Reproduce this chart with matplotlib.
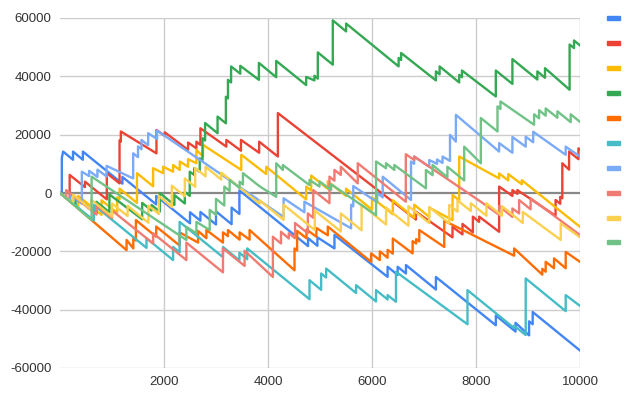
import matplotlib
matplotlib.use("Agg")
import matplotlib.pyplot as plt
from matplotlib.patches import Rectangle

colors = ["#4285F4", "#EA4335", "#FBBC04", "#34A853", "#FF6D01",
          "#46BDC6", "#7BAAF7", "#F07B72", "#FCD04F", "#71C287"]

x_ticks = [2000, 4000, 6000, 8000, 10000]
y_ticks = [-60000, -40000, -20000, 0, 20000, 40000, 60000]

# vertices (step, value), jumps are repeated x values
blue = [(0, 0), (35, -500), (35, 12000), (60, 14200), (250, 11400), (250, 14200), (440, 11400), (440, 14200),
        (1200, 3200), (1200, 5500), (1850, -3900), (1850, -1000), (2500, -10400), (2500, -6600),
        (2700, -9500), (2700, -6500), (3000, -10800), (3000, -6300), (3300, -10700), (3300, -5000),
        (3450, -7200), (3450, 900), (4770, -18200), (4770, -15500), (4950, -18100), (4950, -15200),
        (5278, -19000), (5278, -14400), (6300, -28760), (6300, -25300), (6493, -28100), (6493, -25300),
        (6653, -27600), (6653, -24700), (7229, -33100), (7229, -28800), (8381, -45350), (8381, -42000),
        (8760, -47500), (8760, -44500), (9021, -48800), (9021, -44000), (9090, -45000), (9090, -40800),
        (10000, -54000)]

red = [(0, 0), (186, -2700), (186, 6200), (480, 2000), (480, 3900), (900, -2200), (900, 6800),
       (1145, 3300), (1145, 18000), (1170, 17600), (1170, 21100), (1855, 13600), (1855, 21600),
       (2015, 19600), (2015, 20800), (2463, 14800), (2463, 17300), (2623, 15300), (2623, 17600),
       (2700, 16500), (2700, 22200), (3199, 15900), (3199, 18200), (3480, 14500), (3480, 18200),
       (3830, 13800), (3830, 17600), (4190, 12500), (4190, 27400), (6845, -9100), (6845, -6400),
       (7548, -15200), (7548, -11600), (7740, -14200), (7740, -10600), (7940, -13500), (7940, -8100),
       (8060, -9900), (8060, -8100), (8445, -13300), (8445, 2200), (8700, -1000), (8700, 1000),
       (8795, -300), (8795, 1000), (9530, -7800), (9530, -2400), (9620, -3700), (9620, -1300),
       (9660, -1800), (9660, 10200), (9790, 8000), (9790, 14200), (9970, 11600), (9970, 15300),
       (10000, 15000)]

yellow = [(0, 0), (350, -5000), (350, -1000), (800, -7500), (800, -2500), (1100, -6800),
          (1100, -1500), (1145, -2200), (1145, 1500), (1480, -3400), (1480, 6800), (1790, 2300),
          (1790, 8500), (1983, 6800), (1983, 9000), (2175, 7300), (2175, 9600), (2303, 7900),
          (2303, 10800), (2463, 9000), (2463, 11600), (2623, 10200), (2623, 14800), (2750, 12500),
          (2750, 16500), (3486, 7900), (3486, 13100), (3966, 6500), (3966, 9000), (4734, -2200),
          (4734, 2200), (4830, 800), (4830, 6000), (5150, 1400), (5150, 4000), (5500, -1000),
          (5500, 1500), (6000, -5700), (6000, -1500), (6400, -7300), (6400, -2500), (6813, -8500),
          (6813, -4000), (7100, -8200), (7100, -5000), (7549, -9300), (7549, -700), (7677, -2500),
          (7677, 12500), (8445, 5000), (8445, 6700), (8620, 4300), (8620, 6500), (8880, 3000),
          (8880, 4400), (10000, -11600)]

green = [(0, 0), (300, -4000), (300, -1500), (700, -7000), (700, -3000), (950, -6600), (950, -500),
         (1580, -9000), (1580, -3400), (1760, -6000), (1760, -4100), (1919, -6400), (1919, 0),
         (2200, -4100), (2200, -700), (2400, -3600), (2400, 400), (2495, -1000), (2495, 7300),
         (2580, 6200), (2580, 8500), (2687, 7300), (2687, 11900), (2740, 11200), (2740, 18800),
         (2790, 18000), (2790, 24000), (3030, 20500), (3030, 26200), (3190, 23900), (3190, 33000),
         (3230, 32400), (3230, 38800), (3290, 37900), (3290, 43400), (3467, 40900), (3467, 43600),
         (3825, 38800), (3825, 44600), (4158, 39700), (4158, 45300), (4734, 37000), (4734, 39800),
         (4893, 38600), (4893, 40200), (4958, 39200), (4958, 48200), (5246, 44000), (5246, 59200),
         (5502, 55400), (5502, 58100), (6512, 43400), (6512, 46300), (6560, 45600), (6560, 48000),
         (7229, 38600), (7229, 41700), (7300, 40700), (7300, 43400), (7677, 37900), (7677, 40500),
         (7730, 39700), (7730, 42000), (8381, 33100), (8381, 42000), (8700, 37400), (8700, 45900),
         (9180, 38900), (9180, 41700), (9327, 39500), (9327, 42800), (9800, 35400), (9800, 50900),
         (9885, 49700), (9885, 52300), (10000, 50600)]

orange = [(0, 0), (1280, -19600), (1280, -16100), (1410, -19000), (1410, -15500), (1460, -16300),
          (1460, -9300), (1850, -15000), (1850, -11500), (2300, -18000), (2300, -13500),
          (2655, -17000), (2655, -13000), (2815, -15500), (2815, -12700), (3134, -17000),
          (3134, -13500), (3230, -14800), (3230, -12700), (3454, -16000), (3454, -13500),
          (3646, -16000), (3646, -12700), (4510, -26500), (4510, -19000), (4560, -19700),
          (4560, -13000), (4740, -15500), (4740, -12500), (4930, -15000), (4930, -12000),
          (5150, -14500), (5150, -11500), (5982, -23600), (5982, -20700), (6150, -23000),
          (6150, -20000), (6300, -22200), (6300, -19500), (6400, -20800), (6400, -15600),
          (6781, -20700), (6781, -16500), (6850, -17300), (6850, -15800), (6909, -16600),
          (6909, -12700), (7389, -18500), (7389, -9500), (8733, -21500), (8733, -19000),
          (9275, -28000), (9275, -26000), (9340, -27000), (9340, -23600), (9500, -25800),
          (9500, -22400), (9725, -25800), (9725, -20200), (10000, -23600)]

teal = [(0, 0), (650, -9400), (650, -4100), (1663, -18800), (1663, -15500), (2175, -23000),
        (2175, -18500), (2300, -20300), (2300, -9900), (3134, -22000), (3134, -18500),
        (3450, -23100), (3450, -20500), (3600, -22700), (3600, -19000), (4798, -36400),
        (4798, -29900), (5022, -33200), (5022, -27600), (5118, -29000), (5118, -25900),
        (5694, -34300), (5694, -31600), (6078, -37200), (6078, -33300), (6300, -36500),
        (6300, -35000), (6461, -37300), (6461, -27000), (7836, -45000), (7836, -33300),
        (8733, -46300), (8733, -45500), (8956, -48700), (8956, -29300), (9725, -40500),
        (9725, -35000), (10000, -38700)]

light_blue = [(0, 0), (200, -2900), (200, -500), (420, -3700), (420, 7300), (560, 5800), (560, 7600),
              (720, 5500), (720, 8000), (896, 5700), (896, 9300), (1407, 5000), (1407, 13600),
              (1500, 12300), (1500, 16000), (1567, 15000), (1567, 18200), (1695, 16400),
              (1695, 20500), (1867, 18500), (1867, 21400), (4000, -4600), (4300, -8200),
              (4300, -1800), (4700, -6600), (4700, -3000), (5598, -12100), (5598, -4000),
              (5640, -4600), (5640, 2400), (6100, -3200), (6100, 0), (6206, -1500), (6206, 5600),
              (6750, -2400), (6750, 10800), (6810, 10000), (6810, 12500), (7101, 9000),
              (7101, 11300), (7250, 10000), (7250, 11500), (7357, 10300), (7357, 12500),
              (7500, 11000), (7500, 19900), (7613, 17600), (7613, 26800), (8445, 14200),
              (8445, 17100), (8700, 13800), (8700, 19200), (8956, 15900), (8956, 19300),
              (9100, 17400), (9100, 21000), (9725, 13100), (9725, 15900), (10000, 12500)]

light_red = [(0, 0), (120, -1700), (120, 1000), (700, -7400), (700, -4300), (1000, -8600),
             (1000, -6000), (1790, -17300), (1790, -13800), (2430, -23000), (2430, -17000),
             (3134, -27200), (3134, -19000), (3550, -25000), (3550, -19800), (4094, -28800),
             (4094, -15000), (4250, -17300), (4250, -13300), (4400, -15600), (4400, -13800),
             (4520, -15500), (4520, -10300), (4766, -13800), (4766, -7000), (4870, -8500),
             (4870, 1000), (5182, -3500), (5182, 5600), (5278, 4200), (5278, 7900), (5400, 6200),
             (5400, 9000), (5726, 3300), (5726, 10200), (6650, -3000), (6650, 13300), (6813, 11300),
             (6813, 12500), (8093, -3000), (8445, -7500), (8445, -4500), (8700, -8200),
             (8700, -5300), (8829, -7000), (8829, -2400), (9050, -5600), (9050, -1800),
             (10000, -14400)]

light_yellow = [(0, 0), (250, -3600), (250, -600), (600, -5700), (600, -2300), (1000, -8100),
                (1000, -3600), (1300, -7900), (1300, -4400), (1700, -10200), (1700, -4300),
                (1900, -7200), (1900, -1000), (2150, -4800), (2150, 2500), (2400, -1100),
                (2400, 5000), (2600, 2100), (2600, 8600), (2800, 5700), (2800, 9000), (3100, 4600),
                (3100, 7000), (3838, -3700), (3838, -2500), (4300, -9200), (4300, -4000),
                (4900, -12700), (4900, -6000), (5400, -13200), (5400, -7000), (5800, -12800),
                (5800, -4000), (6270, -10800), (6270, -5000), (6700, -11200), (6700, -4500),
                (7100, -10300), (7100, -4800), (7485, -10400), (7485, -4100), (7645, -6400),
                (7645, -2500), (7900, -6200), (7900, -3500), (8200, -7800), (8200, -3500),
                (8500, -7800), (8500, -4500), (8900, -10300), (8900, -6500), (9630, -16100),
                (9630, -10400), (10000, -15200)]

light_green = [(0, 0), (608, -9300), (608, 5600), (2430, -16100), (2430, -11600), (2623, -13800),
               (2623, -9900), (2879, -12700), (2879, -5800), (3000, -7500), (3000, -2000),
               (3160, -4300), (3160, 2200), (3262, 700), (3262, 4500), (3454, 1700), (3454, 3900),
               (3518, 2900), (3518, 6800), (3838, 2300), (4158, -1300), (4158, 10200),
               (4286, 7900), (4286, 9600), (4798, 2700), (4798, 4500), (4990, 2200), (4990, 4000),
               (5214, 1000), (5214, 3000), (6078, -7600), (6078, 10800), (6270, 8500),
               (6270, 10200), (6430, 7900), (6430, 9600), (7037, 1600), (7037, 7900),
               (7165, 6100), (7165, 9600), (7450, 5400), (7450, 9000), (7773, 4300),
               (7773, 15900), (8093, 10200), (8093, 25700), (8413, 21100), (8413, 29700),
               (8470, 28800), (8470, 31400), (9117, 23400), (9117, 27000), (9213, 25600),
               (9213, 28400), (9340, 26500), (9340, 29000), (9565, 25800), (9565, 28000),
               (9821, 24300), (9821, 27000), (10000, 24400)]

series = [blue, red, yellow, green, orange, teal, light_blue, light_red, light_yellow, light_green]

W, H = 633, 394
fig = plt.figure(figsize=(W / 100, H / 100), dpi=100)
ax = fig.add_axes([60 / W, 1 - 368 / H, 520 / W, 350 / H])

for v in x_ticks:
    ax.axvline(v, color="#cccccc", lw=1, zorder=0)
for v in y_ticks:
    if v != 0:
        ax.axhline(v, color="#cccccc", lw=1, zorder=0)
ax.axhline(0, color="#888888", lw=1.6, zorder=1)

for pts, c in zip(series, colors):
    xs = [p[0] for p in pts]
    ys = [p[1] for p in pts]
    ax.plot(xs, ys, color=c, lw=1.7, zorder=2)

ax.set_xlim(0, 10000)
ax.set_ylim(-60000, 60000)
ax.set_xticks(x_ticks)
ax.set_yticks(y_ticks)
ax.set_xticklabels([str(v) for v in x_ticks])
ax.set_yticklabels([str(v) for v in y_ticks])
ax.tick_params(length=0, labelsize=9.5, labelcolor="#333333", pad=6)
for lab in ax.get_xticklabels() + ax.get_yticklabels():
    lab.set_fontfamily("Liberation Sans")
for s in ax.spines.values():
    s.set_visible(False)

# legend swatches, labels are empty in the original
for i, c in enumerate(colors):
    yc = 18.3 + 24.9 * i
    fig.patches.append(Rectangle((607 / W, 1 - (yc + 2) / H), 13 / W, 4 / H,
                                 transform=fig.transFigure, color=c))

fig.savefig("out.png", dpi=100)
